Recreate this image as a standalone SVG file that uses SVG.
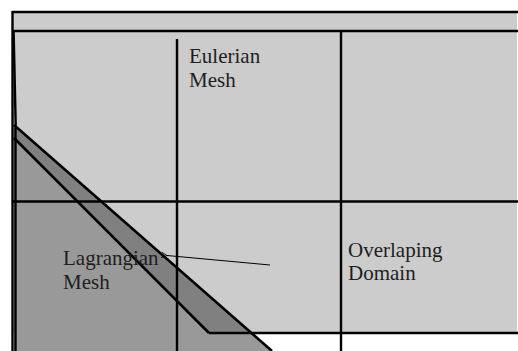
<svg xmlns="http://www.w3.org/2000/svg" width="518" height="351" viewBox="0 0 518 351">
  <style>
    .edge { stroke: #000; fill: none; stroke-linecap: butt; }
    .grid { stroke: #000; stroke-width: 2.4; fill: none; }
    .label { font-family: "Liberation Serif", "Times New Roman", serif; font-size: 21px; fill: #1e1e1e; }
  </style>
  <defs>
    <marker id="open-arrow" viewBox="0 0 10 10" refX="1" refY="5" markerWidth="7" markerHeight="7" orient="auto" markerUnits="userSpaceOnUse">
      <path d="M9,1 L1,5 L9,9" fill="none" stroke="#000" stroke-width="1.2"/>
    </marker>
  </defs>

  <rect width="518" height="351" fill="#ffffff"/>

  <!-- Eulerian mesh: background domain with its grid -->
  <g id="eulerian-mesh">
    <rect x="12" y="12" width="505" height="321" fill="#cccccc"/>
  </g>

  <!-- Lagrangian mesh: body plus dark boundary layer -->
  <g id="lagrangian-mesh">
    <polygon points="14,138 209,333 252,333 272,351 14,351" fill="#999999"/>
    <polygon points="14,125 252,333 209,333 14,138" fill="#808080"/>
    <line class="edge" x1="14" y1="125" x2="272" y2="351" stroke-width="2.6"/>
    <line class="edge" x1="14" y1="138" x2="209" y2="333" stroke-width="2.6"/>
    <line class="edge" x1="209" y1="333" x2="518" y2="333" stroke-width="2.6"/>
  </g>

  <!-- mesh lines drawn over both domains -->
  <g id="grid">
    <line class="grid" x1="12" y1="12" x2="518" y2="12" stroke-width="2.6"/>
    <line class="grid" x1="12" y1="31" x2="518" y2="31" stroke-width="2.6"/>
    <line class="grid" x1="12" y1="201.5" x2="518" y2="201.5"/>
    <line class="grid" x1="177" y1="39" x2="177" y2="351"/>
    <line class="grid" x1="341" y1="31" x2="341" y2="351"/>
    <line class="grid" x1="12.5" y1="11" x2="12.5" y2="351" stroke-width="2.8"/>
    <line class="grid" x1="13.6" y1="31" x2="15.7" y2="125" stroke-width="2"/>
    <line class="grid" x1="15.5" y1="125" x2="15.5" y2="351" stroke-width="2.4"/>
  </g>

  <g id="label-eulerian">
    <text class="label" x="189" y="63">Eulerian</text>
    <text class="label" x="189" y="87">Mesh</text>
  </g>
  <g id="label-lagrangian">
    <text class="label" x="63" y="265" fill="#2a2a2a">Lagrangian</text>
    <text class="label" x="63" y="289" fill="#2a2a2a">Mesh</text>
  </g>
  <g id="label-overlap">
    <text class="label" x="348" y="257">Overlaping</text>
    <text class="label" x="348" y="280">Domain</text>
  </g>

  <g id="connectors">
    <line x1="270" y1="265" x2="167" y2="255.5" stroke="#000" stroke-width="1" marker-end="url(#open-arrow)"/>
  </g>
</svg>
